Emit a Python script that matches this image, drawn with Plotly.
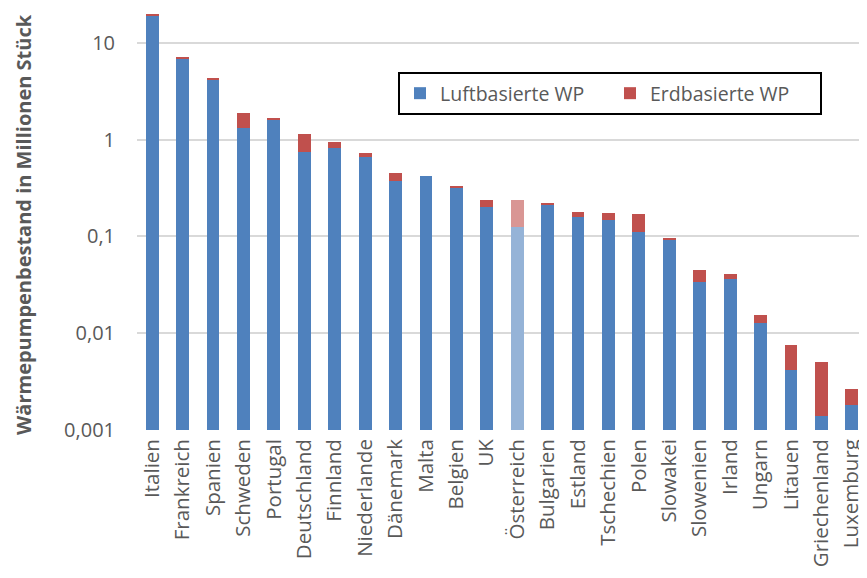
import plotly.graph_objects as go

countries = ["Italien", "Frankreich", "Spanien", "Schweden", "Portugal", "Deutschland",
             "Finnland", "Niederlande", "Dänemark", "Malta", "Belgien", "UK", "Österreich",
             "Bulgarien", "Estland", "Tschechien", "Polen", "Slowakei", "Slowenien", "Irland",
             "Ungarn", "Litauen", "Griechenland", "Luxemburg"]
luft = [19.3, 6.84, 4.2, 1.33, 1.62, 0.753, 0.822, 0.658, 0.375, 0.422, 0.32, 0.2, 0.1254,
        0.212, 0.159, 0.149, 0.112, 0.0927, 0.0339, 0.0361, 0.01266, 0.00417, 0.00141, 0.00181]
erd = [0.2, 0.2, 0.05, 0.56, 0.02, 0.39, 0.126, 0.072, 0.075, 0.0, 0.013, 0.037, 0.113,
       0.005, 0.019, 0.026, 0.059, 0.0038, 0.0112, 0.0046, 0.0028, 0.0033, 0.00367, 0.00084]
highlight = "Österreich"
tick_vals = [0.001, 0.01, 0.1, 1, 10]
tick_text = ["0,001", "0,01", "0,1", "1", "10"]

blue, blue_hl = "#4F81BD", "#95B3D7"
red, red_hl = "#C0504D", "#D99694"
luft_colors = [blue_hl if c == highlight else blue for c in countries]
erd_colors = [red_hl if c == highlight else red for c in countries]

fig = go.Figure()
fig.add_trace(go.Bar(x=countries, y=luft, name="Luftbasierte WP", width=0.42,
                     marker=dict(color=luft_colors, line=dict(width=0))))
fig.add_trace(go.Bar(x=countries, y=erd, name="Erdbasierte WP", width=0.42,
                     marker=dict(color=erd_colors, line=dict(width=0))))

# page body has an 8px margin, so the figure is sized to fill the rest of the window
OFF = 8
W, H = 867 - OFF, 578 - OFF
L, T = 137 - OFF, 9 - OFF
B = H - (430 - OFF)
PW, PH = W - L, H - T - B
fig.update_layout(
    width=W, height=H, barmode="stack",
    margin=dict(l=L, r=0, t=T, b=B, autoexpand=False),
    plot_bgcolor="white", paper_bgcolor="white",
    font=dict(family="Open Sans", color="#595959"),
    showlegend=True,
    legend=dict(orientation="h", x=(398 - OFF - L) / PW, y=(430 - 72) / PH,
                xanchor="left", yanchor="top", entrywidth=165,
                bordercolor="black", borderwidth=2, bgcolor="white",
                font=dict(size=19.5, color="#595959"), traceorder="normal"),
    xaxis=dict(range=[-0.5, 23.5], tickangle=-90, tickfont=dict(size=20.5, color="#595959"),
               showgrid=False, showline=False, ticks="", ticklabelstandoff=4, automargin=False),
    yaxis=dict(type="log", range=[-3, 1.35], tickvals=tick_vals, ticktext=tick_text,
               tickfont=dict(size=20, color="#595959"), showgrid=True, gridcolor="#D9D9D9",
               gridwidth=1.5, zeroline=False, showline=False, ticks="", ticklabelstandoff=21,
               automargin=False),
)
fig.add_annotation(text="<b>Wärmepumpenbestand in Millionen Stück</b>", textangle=-90,
                   xref="paper", yref="paper", x=(24 - OFF - L) / PW, y=(430 - 225) / PH,
                   xanchor="center", yanchor="middle", showarrow=False,
                   font=dict(size=20, color="#595959", family="Open Sans"))
fig.write_html("out.html")
